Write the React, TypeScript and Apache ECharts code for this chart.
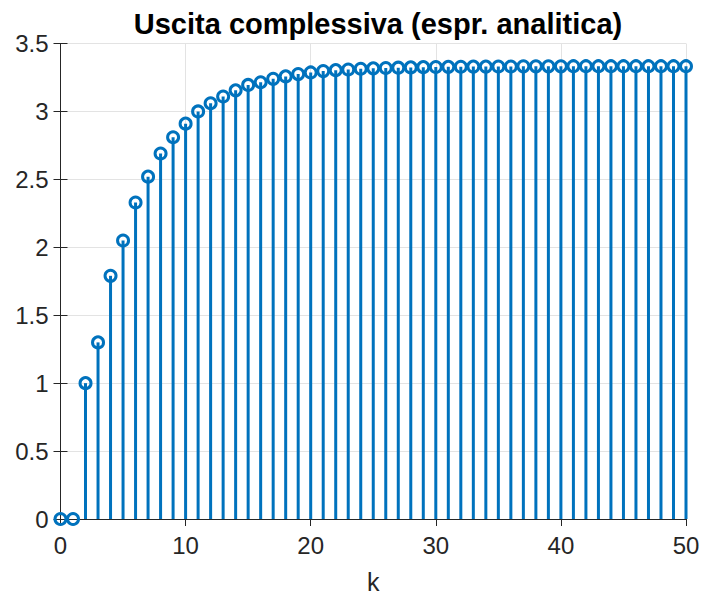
import React, { useEffect, useRef } from "react";
import * as echarts from "echarts";

// Sample index k = 0..50 and the analytic output y[k]
const kValues: number[] = Array.from({ length: 51 }, (_, i) => i);
const yValues: number[] = [
  0, 0, 1.0, 1.3, 1.79, 2.05, 2.33, 2.52, 2.69, 2.81,
  2.91, 3.0, 3.06, 3.11, 3.155, 3.195, 3.215, 3.24, 3.258, 3.275,
  3.287, 3.297, 3.304, 3.309, 3.314, 3.317, 3.32, 3.322, 3.324, 3.326,
  3.327, 3.328, 3.329, 3.33, 3.33, 3.331, 3.331, 3.332, 3.332, 3.332,
  3.332, 3.333, 3.333, 3.333, 3.333, 3.333, 3.333, 3.333, 3.333, 3.333,
  3.333,
];
const xTicks = { min: 0, max: 50, interval: 10 };
const yTicks = { min: 0, max: 3.5, interval: 0.5 };

const TITLE = "Uscita complessiva (espr. analitica)";
const X_LABEL = "k";

const BLUE = "#0072BD";
const AXIS = "#262626";
const GRIDLINE = "#e3e3e3";
const FONT = "'Liberation Sans', Arial, Helvetica, sans-serif";

export default function App() {
  const ref = useRef<HTMLDivElement>(null);

  useEffect(() => {
    if (!ref.current) return;
    const chart = echarts.init(ref.current, undefined, { renderer: "svg" });
    const points = kValues.map((k, i) => [k, yValues[i]]);

    const mirrorAxis = {
      axisLine: { show: true, lineStyle: { color: AXIS, width: 1 } },
      axisTick: { show: true, inside: true, length: 7, lineStyle: { color: AXIS } },
      axisLabel: { show: false },
      splitLine: { show: false },
    };

    chart.setOption({
      animation: false,
      backgroundColor: "#ffffff",
      title: {
        text: TITLE,
        left: 373,
        textAlign: "center",
        top: 4,
        textStyle: { fontFamily: FONT, fontWeight: "bold", fontSize: 29, color: "#000" },
      },
      grid: { left: 60.5, right: 17, top: 43.5, bottom: 77, containLabel: false },
      xAxis: [
        {
          type: "value",
          ...xTicks,
          position: "bottom",
          name: X_LABEL,
          nameLocation: "middle",
          nameGap: 50,
          nameTextStyle: { fontFamily: FONT, fontSize: 25, color: AXIS },
          axisLine: { show: true, onZero: false, lineStyle: { color: AXIS, width: 1 } },
          axisTick: { show: true, inside: true, length: 7, lineStyle: { color: AXIS } },
          axisLabel: { fontFamily: FONT, fontSize: 24, color: AXIS, margin: 14 },
          splitLine: { show: true, lineStyle: { color: GRIDLINE, width: 1 } },
        },
        { type: "value", ...xTicks, position: "top", ...mirrorAxis },
      ],
      yAxis: [
        {
          type: "value",
          ...yTicks,
          position: "left",
          axisLine: { show: true, lineStyle: { color: AXIS, width: 1 } },
          axisTick: { show: true, inside: true, length: 7, lineStyle: { color: AXIS } },
          axisLabel: { fontFamily: FONT, fontSize: 24, color: AXIS, margin: 12 },
          splitLine: { show: true, lineStyle: { color: GRIDLINE, width: 1 } },
        },
        { type: "value", ...yTicks, position: "right", ...mirrorAxis },
      ],
      series: [
        {
          type: "custom",
          name: "stems",
          data: points,
          clip: false,
          renderItem: (_params: any, api: any) => {
            const base = api.coord([api.value(0), 0]);
            const tip = api.coord([api.value(0), api.value(1)]);
            return {
              type: "line",
              shape: { x1: base[0], y1: base[1], x2: tip[0], y2: tip[1] },
              style: { stroke: BLUE, lineWidth: 3 },
            };
          },
          z: 3,
        },
        {
          type: "scatter",
          name: "markers",
          data: points,
          clip: false,
          symbol: "circle",
          symbolSize: 11,
          itemStyle: { color: "rgba(0,0,0,0)", borderColor: BLUE, borderWidth: 3, opacity: 1 },
          z: 4,
        },
      ],
    });

    return () => chart.dispose();
  }, []);

  return (
    <div
      ref={ref}
      style={{ position: "fixed", left: 0, top: 0, width: 703, height: 599, background: "#fff" }}
    />
  );
}
